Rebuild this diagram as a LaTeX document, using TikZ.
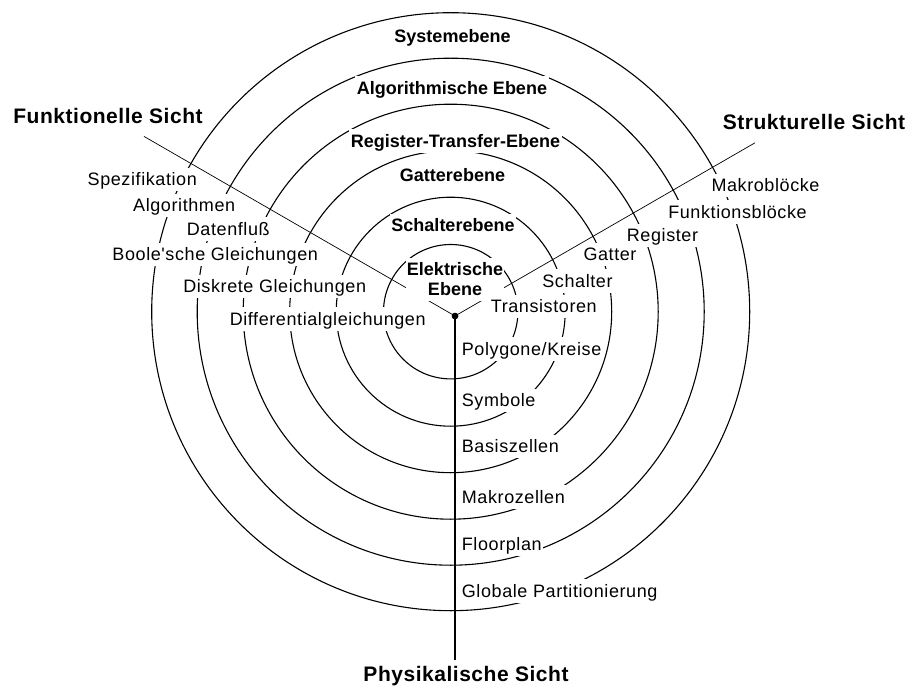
\documentclass[tikz,border=0pt]{standalone}
\usepackage{fontspec}
\setmainfont{Liberation Sans}
\newfontfamily\lblfont{Liberation Sans}[LetterSpace=3.3]
\newfontfamily\ttlfont{Liberation Sans}[LetterSpace=2.5]

\begin{document}
\begin{tikzpicture}[x=1pt,y=-1pt,
  ring/.style={line width=1.1pt},
  axis/.style={line width=0.7pt},
  vaxis/.style={line width=1.2pt},
  lbl/.style={font=\lblfont\fontsize{18}{20}\selectfont, fill=white,
    inner xsep=1.5pt, inner ysep=1.5pt, text height=16.5pt, text depth=4pt, anchor=base},
  lblw/.style={lbl, anchor=base west},
  lvl/.style={font=\bfseries\fontsize{18}{20}\selectfont, fill=white,
    inner xsep=1.5pt, inner ysep=1.5pt, text height=16.5pt, text depth=4pt, anchor=base},
  ttl/.style={font=\ttlfont\bfseries\fontsize{21}{24}\selectfont, anchor=base}]

\useasboundingbox[fill=white] (0,0) rectangle (910,687);

% concentric abstraction levels
\coordinate (c) at (450.7,311.7);
\foreach \r in {67.2,114.5,161,207.5,253.5,299}
  \draw[ring] (c) circle[radius=\r];

% the three axes of the Y-chart
\node[circle, fill=black, inner sep=0pt, minimum size=6.5pt] (o) at (455,316) {};
\coordinate (fend) at (144,136.4);
\coordinate (send) at (755,142.8);
\coordinate (pend) at (455,660);
\draw[axis] (o.center) -- (fend);
\draw[axis] (o.center) -- (send);
\draw[vaxis] (o.center) -- (pend);

% level names
\node[lvl] (sys) at (452.5,42.5) {Systemebene};
\node[lvl] (alg) at (452,94.3) {Algorithmische Ebene};
\node[lvl] (rtl) at (455.5,147.3) {Register-Transfer-Ebene};
\node[lvl] (gat) at (452.5,181.7) {Gatterebene};
\node[lvl] (sch) at (453,231.7) {Schalterebene};
\node[fill=white, inner sep=0pt, minimum width=98pt, minimum height=43pt,
  align=center, font=\bfseries\fontsize{18}{20}\selectfont] (ele) at (455,279.5)
  {Elektrische\\Ebene};

% functional view
\node[lbl] (f1) at (142.3,185.7) {Spezifikation};
\node[lbl] (f2) at (184.2,211.7) {Algorithmen};
\node[lbl] (f3) at (228.3,235) {Datenfluß};
\node[lbl] (f4) at (215.2,260.7) {Boole'sche Gleichungen};
\node[lbl] (f5) at (274.7,292.7) {Diskrete Gleichungen};
\node[lbl] (f6) at (327.7,325) {Differentialgleichungen};

% structural view
\node[lbl] (s1) at (765.5,191.7) {Makroblöcke};
\node[lbl] (s2) at (737.5,218.3) {Funktionsblöcke};
\node[lbl] (s3) at (662.5,241.7) {Register};
\node[lbl] (s4) at (610,260.7) {Gatter};
\node[lbl] (s5) at (577.5,287.3) {Schalter};
\node[lbl] (s6) at (543.8,312.7) {Transistoren};

% physical view
\node[lblw] (p1) at (460.2,355) {Polygone/Kreise};
\node[lblw] (p2) at (460.2,406.7) {Symbole};
\node[lblw] (p3) at (460.2,452.7) {Basiszellen};
\node[lblw] (p4) at (460.2,503.3) {Makrozellen};
\node[lblw] (p5) at (460.2,550) {Floorplan};
\node[lblw] (p6) at (460.2,597.3) {Globale Partitionierung};

% view titles
\node[ttl] (tf) at (108,124) {Funktionelle Sicht};
\node[ttl] (ts) at (814,130) {Strukturelle Sicht};
\node[ttl] (tp) at (466,681.7) {Physikalische Sicht};

\fill (o) circle[radius=3.25pt];
\end{tikzpicture}
\end{document}
